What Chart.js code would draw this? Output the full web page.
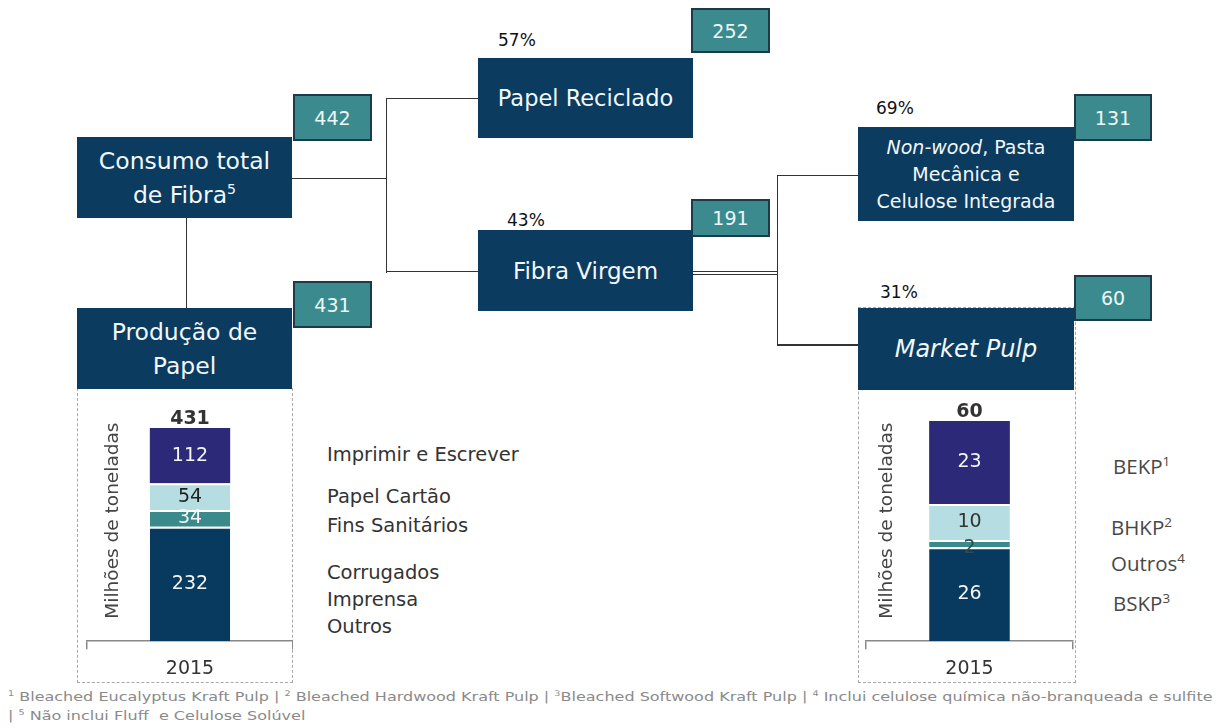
<!DOCTYPE html>
<html><head><meta charset="utf-8">
<script src="https://cdn.jsdelivr.net/npm/chart.js@4.4.1/dist/chart.umd.min.js"></script>
<style>
html,body{margin:0;padding:0;background:#fff;}
#page{position:relative;width:1221px;height:728px;overflow:hidden;font-family:"DejaVu Sans",sans-serif;}
.box{position:absolute;background:#0b3b5f;color:#f2f7fa;display:flex;flex-direction:column;align-items:center;justify-content:center;text-align:center;white-space:nowrap;}
.box sup{font-size:0.6em;vertical-align:0.65em;line-height:0;}
.num{position:absolute;background:#3b8b8e;border:2px solid #1b3b4d;box-sizing:border-box;color:#eef7f7;font-size:19px;display:flex;align-items:center;justify-content:center;}
.pct{position:absolute;font-size:17px;color:#111;line-height:20px;}
.ln{position:absolute;background:#333;}
.dash{position:absolute;border:1.5px dashed #a8a8a8;box-sizing:border-box;}
.leg{position:absolute;font-size:19.5px;color:#333;line-height:24px;white-space:nowrap;}
.legr{position:absolute;font-family:"Open Sans",sans-serif;font-size:20.5px;color:#484848;line-height:24px;white-space:nowrap;}
.legr sup{font-size:0.65em;vertical-align:0.6em;line-height:0;}
.cv{position:absolute;}
.foot{position:absolute;left:8px;font-family:"DejaVu Sans Condensed","DejaVu Sans",sans-serif;font-stretch:condensed;font-size:13px;color:#8a8a8a;white-space:nowrap;transform-origin:0 50%;line-height:16px;}
.foot sup{font-size:0.6em;vertical-align:0.6em;line-height:0;}
</style></head>
<body><div id="page">
  <!-- dashed frames -->
  <div class="dash" style="left:77px;top:388px;width:216px;height:295px;"></div>
  <div class="dash" style="left:858px;top:307px;width:218px;height:376px;"></div>

  <!-- connector lines -->
  <div class="ln" style="left:292px;top:177.5px;width:94px;height:1.5px;"></div>
  <div class="ln" style="left:385.5px;top:97.5px;width:1.5px;height:175px;"></div>
  <div class="ln" style="left:386px;top:97.5px;width:92px;height:1.5px;"></div>
  <div class="ln" style="left:386px;top:270.5px;width:92px;height:1.5px;"></div>
  <div class="ln" style="left:185.5px;top:218px;width:1.5px;height:90px;"></div>
  <div class="ln" style="left:693px;top:270.5px;width:84px;height:1.5px;"></div>
  <div class="ln" style="left:693px;top:273.5px;width:84px;height:1.5px;"></div>
  <div class="ln" style="left:776.5px;top:174.5px;width:1.5px;height:171px;"></div>
  <div class="ln" style="left:777px;top:174.5px;width:81px;height:1.5px;"></div>
  <div class="ln" style="left:777px;top:344px;width:81px;height:1.5px;"></div>

  <!-- flow boxes -->
  <div class="box" style="left:77px;top:137px;width:215px;height:81px;font-size:23.5px;line-height:34px;"><div>Consumo total</div><div>de Fibra<sup>5</sup></div></div>
  <div class="box" style="left:77px;top:308px;width:215px;height:81px;font-size:23.5px;line-height:34px;"><div>Produção de</div><div>Papel</div></div>
  <div class="box" style="left:478px;top:58px;width:215px;height:80px;font-size:22.5px;">Papel Reciclado</div>
  <div class="box" style="left:478px;top:230px;width:215px;height:81px;font-size:23px;">Fibra Virgem</div>
  <div class="box" style="left:858px;top:127px;width:216px;height:94px;font-size:19px;line-height:27px;"><div><i>Non-wood</i>, Pasta</div><div>Mecânica e</div><div>Celulose Integrada</div></div>
  <div class="box" style="left:858px;top:308px;width:216px;height:82px;font-size:24px;"><i>Market Pulp</i></div>

  <!-- value boxes -->
  <div class="num" id="n0" style="left:293px;top:94px;width:79px;height:47px;"></div>
  <div class="num" id="n1" style="left:293px;top:281px;width:79px;height:47px;"></div>
  <div class="num" id="n2" style="left:691px;top:8px;width:79px;height:45px;"></div>
  <div class="num" id="n3" style="left:691px;top:199px;width:79px;height:38px;"></div>
  <div class="num" id="n4" style="left:1074px;top:94px;width:78px;height:47px;"></div>
  <div class="num" id="n5" style="left:1074px;top:275px;width:78px;height:46px;"></div>

  <!-- percentages -->
  <div class="pct" id="p0" style="left:498px;top:30px;"></div>
  <div class="pct" id="p1" style="left:507px;top:210px;"></div>
  <div class="pct" id="p2" style="left:876px;top:98px;"></div>
  <div class="pct" id="p3" style="left:880px;top:282px;"></div>

  <!-- charts -->
  <canvas class="cv" id="c1" width="216" height="296" style="left:77px;top:392px;"></canvas>
  <canvas class="cv" id="c2" width="218" height="296" style="left:858px;top:392px;"></canvas>

  <!-- legends -->
  <div class="leg" style="left:327px;top:443px;">Imprimir e Escrever</div>
  <div class="leg" style="left:327px;top:485px;">Papel Cartão</div>
  <div class="leg" style="left:327px;top:514px;">Fins Sanitários</div>
  <div class="leg" style="left:327px;top:561px;">Corrugados</div>
  <div class="leg" style="left:327px;top:588px;">Imprensa</div>
  <div class="leg" style="left:327px;top:615px;">Outros</div>

  <div class="legr" style="left:1113px;top:454px;">BEKP<sup>1</sup></div>
  <div class="legr" style="left:1111px;top:515px;">BHKP<sup>2</sup></div>
  <div class="legr" style="left:1111px;top:551px;">Outros<sup>4</sup></div>
  <div class="legr" style="left:1113px;top:591px;">BSKP<sup>3</sup></div>

  <!-- footnotes -->
  <div class="foot" id="f1" style="top:689px;"><sup>1</sup> Bleached Eucalyptus Kraft Pulp | <sup>2</sup> Bleached Hardwood Kraft Pulp | <sup>3</sup>Bleached Softwood Kraft Pulp | <sup>4</sup> Inclui celulose química não-branqueada e sulfite</div>
  <div class="foot" id="f2" style="top:708px;">| <sup>5</sup> Não inclui Fluff&nbsp; e Celulose Solúvel</div>
</div>
<script>
// ---- data ----
const years = ['2015'];
const flowValues = [442, 431, 252, 191, 131, 60];   // Consumo, Produção, Reciclado, Virgem, Non-wood, Market Pulp
const flowShares = [57, 43, 69, 31];                 // % Reciclado, Virgem, Non-wood, Market Pulp
const paperCategories = ['Corrugados, Imprensa e Outros', 'Fins Sanitários', 'Papel Cartão', 'Imprimir e Escrever'];
const paperValues = [232, 34, 54, 112];
const paperTotal = 431;
const pulpCategories = ['BSKP', 'Outros', 'BHKP', 'BEKP'];
const pulpValues = [26, 2, 10, 23];
const pulpTotal = 60;

flowValues.forEach((v, i) => { document.getElementById('n' + i).textContent = v; });
flowShares.forEach((v, i) => { document.getElementById('p' + i).textContent = v + '%'; });

// fit footnotes to width
(function () {
  const f1 = document.getElementById('f1'), f2 = document.getElementById('f2');
  const s = 1205 / f1.scrollWidth;
  f1.style.transform = 'scaleX(' + s + ')';
  f2.style.transform = 'scaleX(' + s + ')';
})();

const segColors = ['#073a5e', '#3a8a8c', '#b6dde2', '#2c2a78'];

const segLabels = {
  id: 'segLabels',
  afterDatasetsDraw(chart, args, opts) {
    const ctx = chart.ctx;
    ctx.save();
    ctx.textAlign = 'center';
    ctx.textBaseline = 'middle';
    chart.data.datasets.forEach((ds, i) => {
      const meta = chart.getDatasetMeta(i);
      meta.data.forEach((bar, j) => {
        const p = bar.getProps(['x', 'y', 'base'], true);
        ctx.fillStyle = (opts.colors && opts.colors[i]) || '#fff';
        ctx.font = '19px "DejaVu Sans"';
        ctx.fillText(String(ds.data[j]), p.x, (p.y + p.base) / 2 + ((opts.offsets && opts.offsets[i]) || 0));
      });
    });
    const last = chart.getDatasetMeta(chart.data.datasets.length - 1).data[0];
    ctx.font = 'bold 19px "DejaVu Sans"';
    ctx.fillStyle = '#333';
    ctx.textBaseline = 'bottom';
    ctx.fillText(String(opts.total), last.x, last.y + 1);
    // rotated axis title
    ctx.translate(opts.titleX, (chart.chartArea.top + chart.chartArea.bottom) / 2 + 4);
    ctx.rotate(-Math.PI / 2);
    ctx.textBaseline = 'middle';
    ctx.font = '18.5px "DejaVu Sans"';
    ctx.fillStyle = '#444';
    ctx.fillText('Milhões de toneladas', 0, 0);
    ctx.restore();
  }
};

function makeChart(id, cats, values, total, yMax, padL, padR, titleX, lblColors, offsets) {
  return new Chart(document.getElementById(id), {
    type: 'bar',
    data: {
      labels: years,
      datasets: values.map((v, i) => ({
        label: cats[i],
        data: [v],
        backgroundColor: segColors[i],
        borderColor: '#ffffff',
        borderWidth: i < values.length - 1 ? { top: 2, bottom: 0, left: 0, right: 0 } : 0,
        borderSkipped: false,
        barPercentage: 0.39,
        categoryPercentage: 1
      }))
    },
    options: {
      responsive: false,
      animation: false,
      layout: { padding: { left: padL, right: padR, top: 0, bottom: 0 } },
      plugins: {
        legend: { display: false },
        tooltip: { enabled: false },
        segLabels: { total: total, titleX: titleX, colors: lblColors, offsets: offsets }
      },
      scales: {
        x: {
          stacked: true,
          grid: { offset: true, drawOnChartArea: false, tickLength: 8, color: '#888', lineWidth: 1.5 },
          border: { display: true, color: '#888', width: 1.5 },
          ticks: { color: '#333', font: { family: 'DejaVu Sans', size: 19 }, padding: 8 }
        },
        y: { stacked: true, display: false, min: 0, max: yMax }
      }
    },
    plugins: [segLabels]
  });
}

makeChart('c1', paperCategories, paperValues, paperTotal, 505, 10, 0, 36,
  ['#f2f6f8', '#f2f6f8', '#1e1e1e', '#f2f6f8'], [0, 0, 0, 0]);
makeChart('c2', pulpCategories, pulpValues, pulpTotal, 69, 8, 3, 29,
  ['#f2f6f8', '#2f4a55', '#333333', '#f2f6f8'], [0, 4, 0, 0]);
</script>
</body></html>
